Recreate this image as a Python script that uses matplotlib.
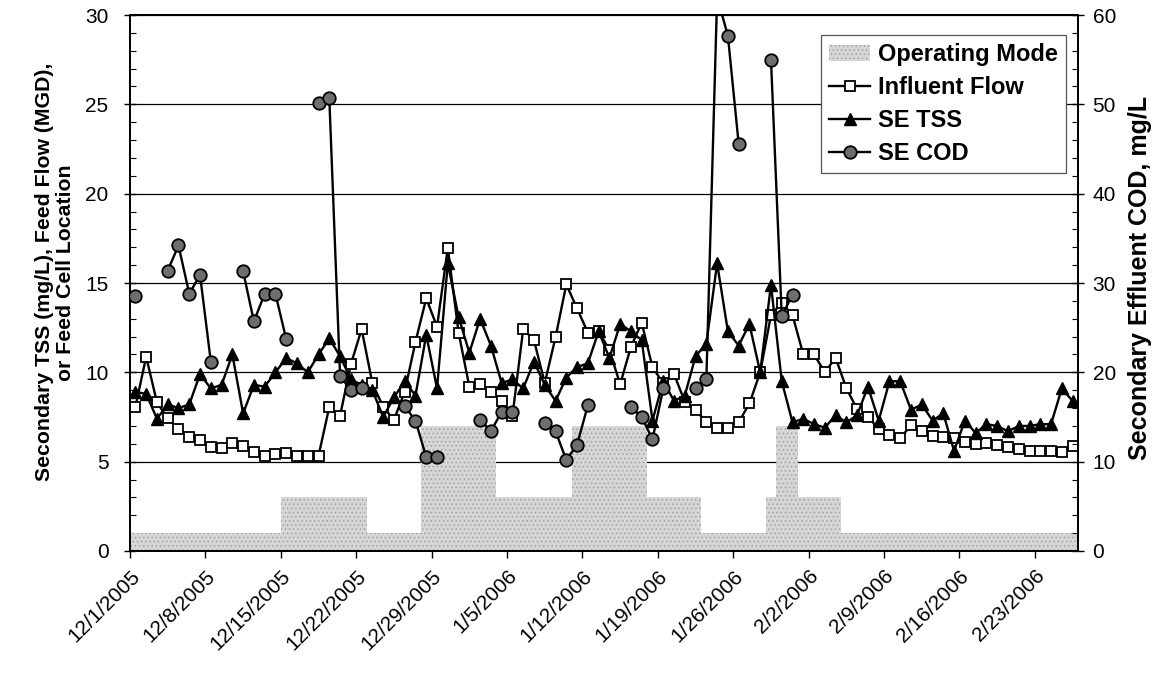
import matplotlib
matplotlib.use('Agg')
import matplotlib.pyplot as plt
import matplotlib.dates as mdates
from matplotlib.ticker import MultipleLocator
from matplotlib.lines import Line2D
from matplotlib.patches import Patch
import numpy as np
import pandas as pd

# ---------------- data ----------------
START_DATE = '2005-12-01'
N_DAYS = 88

tick_labels = ['12/1/2005', '12/8/2005', '12/15/2005', '12/22/2005', '12/29/2005',
               '1/5/2006', '1/12/2006', '1/19/2006', '1/26/2006', '2/2/2006',
               '2/9/2006', '2/16/2006', '2/23/2006']

# Feed cell location / operating mode (left axis)
operating_mode = [1] * 14 + [3] * 8 + [1] * 5 + [7] * 7 + [3] * 7 + [7] * 7 + \
                 [3] * 5 + [1] * 6 + [3] * 1 + [7] * 2 + [3] * 4 + [1] * 22

# Influent flow, MGD (left axis)
influent_flow = [8.07, 10.87, 8.32, 7.42, 6.83, 6.40, 6.21, 5.84, 5.78, 6.06,
                 5.89, 5.54, 5.33, 5.41, 5.47, 5.33, 5.33, 5.33, 8.07, 7.57,
                 10.45, 12.42, 9.38, 8.07, 7.33, 8.92, 11.71, 14.14, 12.55, 16.97,
                 12.23, 9.20, 9.33, 8.92, 8.40, 7.55, 12.42, 11.80, 9.40, 11.96,
                 14.92, 13.58, 12.22, 12.31, 11.25, 9.33, 11.43, 12.78, 10.28, 9.40,
                 9.90, 8.36, 7.87, 7.24, 6.87, 6.87, 7.20, 8.26, 10.00, 13.20,
                 13.90, 13.20, 11.00, 11.00, 10.00, 10.82, 9.10, 7.95, 7.52, 6.83,
                 6.49, 6.30, 7.05, 6.71, 6.45, 6.36, 6.34, 6.12, 5.97, 6.03,
                 5.93, 5.84, 5.71, 5.60, 5.60, 5.60, 5.56, 5.88]

# Secondary effluent TSS, mg/L (left axis)
se_tss = [8.9, 8.8, 7.4, 8.2, 8.0, 8.2, 9.9, 9.1, 9.3, 11.0,
          7.7, 9.3, 9.2, 10.0, 10.8, 10.5, 10.0, 11.0, 11.9, 10.9,
          9.6, 9.3, 9.0, 7.5, 8.6, 9.5, 8.7, 12.1, 9.1, 16.1,
          13.1, 11.1, 13.0, 11.5, 9.4, 9.6, 9.1, 10.6, 9.3, 8.4,
          9.7, 10.3, 10.5, 12.3, 10.8, 12.7, 12.3, 11.8, 7.3, 9.5,
          8.4, 8.7, 10.9, 11.6, 16.1, 12.3, 11.5, 12.7, 10.0, 14.9,
          9.5, 7.2, 7.4, 7.1, 6.9, 7.6, 7.2, 7.6, 9.2, 7.3,
          9.5, 9.5, 7.9, 8.2, 7.3, 7.7, 5.6, 7.3, 6.6, 7.1,
          7.0, 6.7, 7.0, 7.0, 7.1, 7.1, 9.1, 8.4]

nan = np.nan
# Secondary effluent COD, mg/L (right axis)
se_cod = [28.6, nan, nan, 31.4, 34.2, 28.8, 30.9, 21.2, nan, nan,
          31.3, 25.7, 28.8, 28.8, 23.7, nan, nan, 50.1, 50.7, 19.6,
          18.0, 18.3, nan, nan, nan, 16.2, 14.6, 10.5, 10.5, nan,
          nan, nan, 14.7, 13.4, 15.6, 15.6, nan, nan, 14.3, 13.4,
          10.2, 11.9, 16.3, nan, nan, nan, 16.1, 15.0, 12.5, 18.2,
          nan, nan, 18.3, 19.2, 62.0, 57.7, 45.6, nan, nan, 55.0,
          26.3, 28.7, nan, nan, nan, nan, nan, nan, nan, nan,
          nan, nan, nan, nan, nan, nan, nan, nan, nan, nan,
          nan, nan, nan, nan, nan, nan, nan, nan]

# ---------------- plot ----------------
plt.rcParams['font.family'] = ['Liberation Sans', 'DejaVu Sans']
plt.rcParams['hatch.linewidth'] = 0.6

dates = pd.date_range(START_DATE, periods=N_DAYS, freq='D')
x = mdates.date2num(dates) + 0.5
tick_pos = mdates.date2num(pd.to_datetime(tick_labels, format='%m/%d/%Y'))

fig = plt.figure(figsize=(11.64, 6.74), dpi=100)
ax = fig.add_axes([0.1117, 0.1825, 0.8144, 0.7952])

mode_face = '#d6d6d6'
mode_hatch_col = '#a0a0a0'
ax.bar(x, operating_mode, width=1.0, color=mode_face, edgecolor=mode_hatch_col,
       hatch='....', linewidth=0, zorder=2)

line_kw = dict(color='black', lw=1.7)
sq_kw = dict(marker='s', ms=7.5, mfc='white', mec='black', mew=1.3)
tri_kw = dict(marker='^', ms=8.5, mfc='black', mec='black')
cir_kw = dict(marker='o', ms=9, mfc='#6e6e6e', mec='black', mew=1.3)

ax.plot(x, influent_flow, zorder=3, **sq_kw, **line_kw)
ax.plot(x, se_tss, zorder=4, **tri_kw, **line_kw)

ax.set_xlim(x[0] - 0.5, x[-1] + 0.5)
ax.set_ylim(0, 30)
ax.yaxis.set_major_locator(MultipleLocator(5))
ax.yaxis.set_minor_locator(MultipleLocator(1))
ax.yaxis.grid(True, which='major', color='black', lw=0.9)
ax.set_axisbelow(True)

ax.set_xticks(tick_pos)
ax.set_xticklabels(tick_labels, rotation=45, ha='right', rotation_mode='anchor',
                   fontsize=15)
ax.tick_params(axis='x', direction='out', length=5, width=1, pad=6)
ax.tick_params(axis='y', which='major', direction='inout', length=9, width=1,
               labelsize=15, pad=11)
ax.tick_params(axis='y', which='minor', direction='in', length=4, width=0.8)

for sp in ax.spines.values():
    sp.set_color('black')
    sp.set_linewidth(1.3)

ax.set_ylabel('Secondary TSS (mg/L), Feed Flow (MGD),\nor Feed Cell Location',
              fontsize=15.3, fontweight='bold', linespacing=1.15)
ax.yaxis.set_label_coords(-0.058, 0.52)

ax2 = ax.twinx()
ax2.plot(x, se_cod, zorder=5, **cir_kw, **line_kw)
ax2.set_ylim(0, 60)
ax2.yaxis.set_major_locator(MultipleLocator(10))
ax2.yaxis.set_minor_locator(MultipleLocator(2))
ax2.tick_params(axis='y', which='major', direction='inout', length=9, width=1,
                labelsize=15, pad=6)
ax2.tick_params(axis='y', which='minor', direction='in', length=4, width=0.8)
for sp in ax2.spines.values():
    sp.set_color('black')
    sp.set_linewidth(1.3)
ax2.set_ylabel('Secondary Effluent COD, mg/L', fontsize=18, fontweight='bold')
ax2.yaxis.set_label_coords(1.053, 0.51)

handles = [
    Patch(facecolor=mode_face, edgecolor=mode_hatch_col, hatch='....', linewidth=0),
    Line2D([], [], **sq_kw, **line_kw),
    Line2D([], [], **tri_kw, **line_kw),
    Line2D([], [], **cir_kw, **line_kw),
]
labels = ['Operating Mode', 'Influent Flow', 'SE TSS', 'SE COD']
leg = ax2.legend(handles, labels, loc='upper right', bbox_to_anchor=(0.987, 0.963),
                 prop={'weight': 'bold', 'size': 17}, frameon=True, fancybox=False,
                 framealpha=1, edgecolor='#555555', handlelength=1.75,
                 handletextpad=0.3, labelspacing=0.42, borderpad=0.35,
                 borderaxespad=0)
leg.get_frame().set_linewidth(0.9)
leg.set_zorder(10)

fig.savefig('out.png', dpi=100)
